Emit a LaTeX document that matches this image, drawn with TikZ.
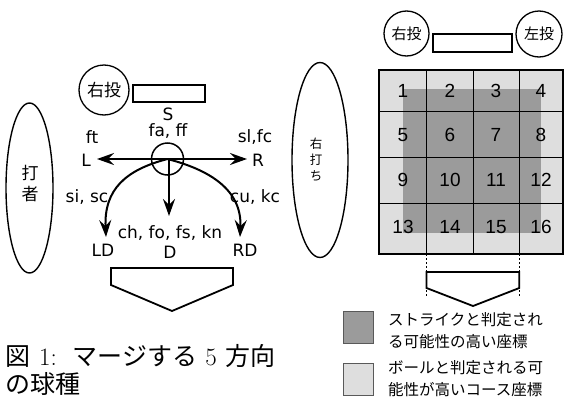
\documentclass[tikz,border=0pt]{standalone}
\usepackage{fontspec}
\newfontfamily\dv{DejaVu Sans}
\newfontfamily\lib{Liberation Sans}
\newfontfamily\jp{Noto Sans CJK JP}
\usetikzlibrary{arrows.meta,shapes.geometric}
\definecolor{darkcell}{RGB}{155,155,155}
\definecolor{lightcell}{RGB}{222,222,222}
\tikzset{
  lbl/.style={font=\dv\fontsize{17}{19}\selectfont, inner sep=0pt},
  jplbl/.style={font=\jp\fontsize{17}{19}\selectfont, inner sep=0pt},
  num/.style={font=\lib\fontsize{19}{21}\selectfont, inner sep=0pt},
  arr/.style={line width=2pt, -{Stealth[length=17pt,width=12pt,inset=6pt]}},
  pitcher/.style={circle, draw, line width=1.3pt, inner sep=0pt},
  shape2/.style={draw, line width=1.8pt, line join=miter},
  legtxt/.style={font=\jp\fontsize{15.5}{22}\selectfont, inner sep=0pt, anchor=west, align=left},
}
\begin{document}
\begin{tikzpicture}[x=1pt,y=-1pt]
\useasboundingbox (0,0) rectangle (564,407);
% ---------------- left diagram ----------------
\node[pitcher, minimum size=50pt, font=\jp\fontsize{17}{19}\selectfont] (lp) at (104,90) {右投};
\draw[shape2] (133,85) rectangle (205,102);
\node[lbl] (S) at (168,114) {S};
\node[lbl] (faff) at (168,131) {fa, ff};
\node[lbl] (ft) at (92,137) {ft};
\node[lbl] (L) at (86,160) {L};
\node[lbl] (slfc) at (255,137) {sl,fc};
\node[lbl] (R) at (258,160) {R};
\node[circle, draw, line width=1.5pt, minimum size=32pt, inner sep=0pt] (c0) at (167.5,159) {};
\coordinate (tL) at (97,159);
\coordinate (tR) at (247,159);
\coordinate (tD) at (169,216);
\coordinate (tLD) at (106,237);
\coordinate (tRD) at (240,237);
\draw[arr] (c0.center) -- (tL);
\draw[arr] (c0.center) -- (tR);
\draw[arr] (169,159) -- (tD);
\draw[arr] (c0.center) .. controls (125,170) and (104,190) .. (tLD);
\draw[arr] (c0.center) .. controls (210,170) and (242,190) .. (tRD);
\node[lbl] (sisc) at (87,197) {si, sc};
\node[lbl] (cukc) at (255,197) {cu, kc};
\node[lbl] (chfo) at (170,233) {ch, fo, fs, kn};
\node[lbl] (LD) at (103,250) {LD};
\node[lbl] (D) at (170,252) {D};
\node[lbl] (RD) at (245,250) {RD};
\draw[shape2] (111,268) -- (233,268) -- (233,285) -- (172,311) -- (111,285) -- cycle;
\node[ellipse, draw, line width=1.4pt, minimum width=47pt, minimum height=170pt, inner sep=0pt] (batter) at (29.5,188) {};
\node[jplbl, align=center, font=\jp\fontsize{17}{21}\selectfont] (batt) at (30,184) {打\\者};
% ---------------- right diagram ----------------
\node[pitcher, minimum size=45pt, font=\jp\fontsize{15}{17}\selectfont] (rp1) at (406.5,33.5) {右投};
\node[pitcher, minimum size=46pt, font=\jp\fontsize{15}{17}\selectfont] (rp2) at (539,34) {左投};
\draw[shape2] (433,34) rectangle (512,52);
\node[ellipse, draw, line width=1.4pt, minimum width=56pt, minimum height=195pt, inner sep=0pt] (rbat) at (320,160) {};
\node[align=center, inner sep=0pt, font=\jp\fontsize{12.5}{16}\selectfont] (rbatt) at (316,160) {右\\打\\ち};
\fill[lightcell] (379,69.5) rectangle (563,254);
\fill[darkcell] (403,89) rectangle (541,233);
\foreach \x in {426.5,473,519.3} \draw[line width=1pt] (\x,69.5) -- (\x,254);
\foreach \y in {111.7,157.7,203.3} \draw[line width=1pt] (379,\y) -- (563,\y);
\draw[line width=2pt] (379,69.5) rectangle (563,254);
\node[num] (n1) at (403,91) {1};
\node[num] (n2) at (450,91) {2};
\node[num] (n3) at (496,91) {3};
\node[num] (n4) at (541,91) {4};
\node[num] (n5) at (403,135) {5};
\node[num] (n6) at (450,135) {6};
\node[num] (n7) at (496,135) {7};
\node[num] (n8) at (541,135) {8};
\node[num] (n9) at (403,180) {9};
\node[num] (n10) at (450,180) {10};
\node[num] (n11) at (496,180) {11};
\node[num] (n12) at (541,180) {12};
\node[num] (n13) at (403,227) {13};
\node[num] (n14) at (450,227) {14};
\node[num] (n15) at (496,227) {15};
\node[num] (n16) at (541,227) {16};
\draw[line width=0.8pt, dash pattern=on 2pt off 2pt] (426.5,254) -- (426.5,297);
\draw[line width=0.8pt, dash pattern=on 2pt off 2pt] (519.3,254) -- (519.3,297);
\draw[shape2] (426.5,272) -- (519.3,272) -- (519.3,288) -- (473,306) -- (426.5,288) -- cycle;
% legend
\draw[gray!70!black, line width=0.8pt, fill=darkcell] (343,311) rectangle (373,343);
\draw[gray!70!black, line width=0.8pt, fill=lightcell] (343,363) rectangle (373,395);
\node[legtxt] (lg1) at (388,331) {ストライクと判定され\\る可能性の高い座標};
\node[legtxt] (lg2) at (388,378.5) {ボールと判定される可\\能性が高いコース座標};
% caption
\node[anchor=west, inner sep=0pt, font=\fontsize{25}{28}\selectfont] (cap1) at (5,356) {{\jp 図}\hspace{9pt}1:\hspace{16pt}{\jp マージする}\hspace{8pt}5\hspace{9pt}{\jp 方向}};
\node[anchor=west, inner sep=0pt, font=\jp\fontsize{25}{28}\selectfont] (cap2) at (5,384) {の球種};
\end{tikzpicture}
\end{document}
